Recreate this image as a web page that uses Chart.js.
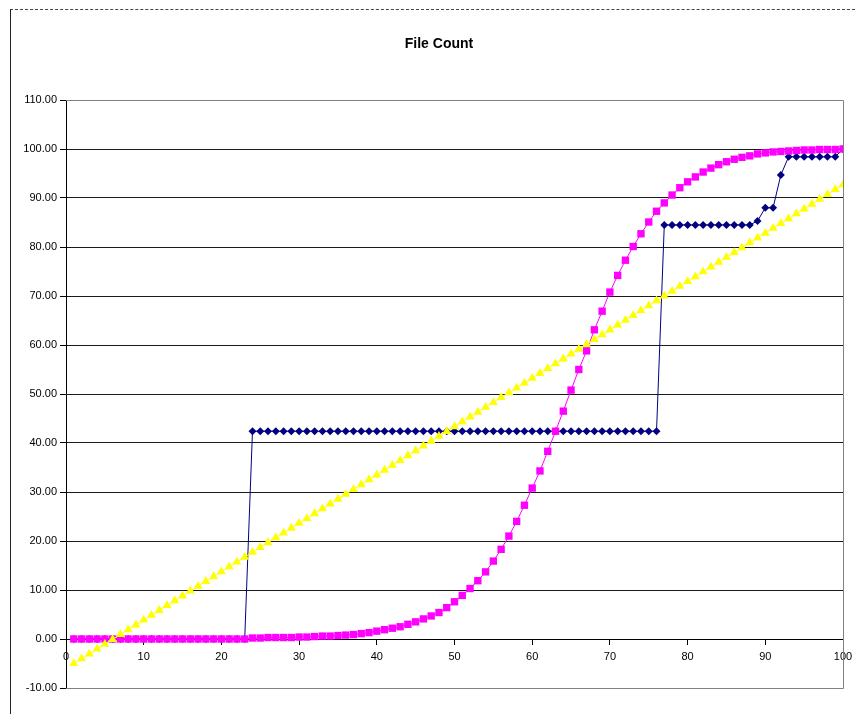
<!DOCTYPE html>
<html lang="en">
<head>
  <meta charset="UTF-8">
  <title>File Count</title>
  <script src="https://cdn.jsdelivr.net/npm/chart.js@4"></script>
  <style>
    * { box-sizing: border-box; margin: 0; padding: 0; }
    body { background: #fff; width: 855px; height: 714px; overflow: hidden; position: relative; font-family: 'Liberation Sans', Arial, sans-serif; }
    #wrap { position: absolute; left: 0; top: 0; width: 855px; height: 714px; }
    .frame { position: absolute; left: 10px; top: 9px; width: 845px; height: 705px; border-left: 1px solid #222; border-top: 1px dashed #444; pointer-events: none; }
  </style>
</head>
<body>
<div id="wrap"><canvas id="chart" width="855" height="714"></canvas></div>
<div class="frame"></div>

<script>
// ── Data ─────────────────────────────────────────────────────────────────────
const titleText = 'File Count';

const xValues = [
  1, 2, 3, 4, 5, 6, 7, 8, 9, 10, 11, 12, 13, 14, 15, 16, 17, 18, 19, 20,
  21, 22, 23, 24, 25, 26, 27, 28, 29, 30, 31, 32, 33, 34, 35, 36, 37, 38, 39, 40,
  41, 42, 43, 44, 45, 46, 47, 48, 49, 50, 51, 52, 53, 54, 55, 56, 57, 58, 59, 60,
  61, 62, 63, 64, 65, 66, 67, 68, 69, 70, 71, 72, 73, 74, 75, 76, 77, 78, 79, 80,
  81, 82, 83, 84, 85, 86, 87, 88, 89, 90, 91, 92, 93, 94, 95, 96, 97, 98, 99, 100
];

// navy diamonds (step series)
const stepSeries = [
  0, 0, 0, 0, 0, 0, 0, 0, 0, 0, 0, 0, 0, 0, 0, 0, 0, 0, 0, 0,
  0, 0, 0, 42.4, 42.4, 42.4, 42.4, 42.4, 42.4, 42.4, 42.4, 42.4, 42.4, 42.4, 42.4, 42.4, 42.4, 42.4, 42.4, 42.4,
  42.4, 42.4, 42.4, 42.4, 42.4, 42.4, 42.4, 42.4, 42.4, 42.4, 42.4, 42.4, 42.4, 42.4, 42.4, 42.4, 42.4, 42.4, 42.4, 42.4,
  42.4, 42.4, 42.4, 42.4, 42.4, 42.4, 42.4, 42.4, 42.4, 42.4, 42.4, 42.4, 42.4, 42.4, 42.4, 42.4, 84.5, 84.5, 84.5, 84.5,
  84.5, 84.5, 84.5, 84.5, 84.5, 84.5, 84.5, 84.5, 85.3, 88.0, 88.0, 94.7, 98.4, 98.4, 98.4, 98.4, 98.4, 98.4, 98.4, 100
];

// magenta squares (S-curve)
const curveSeries = [
  0, 0, 0, 0, 0, 0, 0, 0, 0, 0, 0, 0, 0, 0, 0, 0, 0, 0, 0, 0,
  0, 0, 0, 0.2, 0.2, 0.3, 0.3, 0.3, 0.3, 0.4, 0.4, 0.5, 0.6, 0.6, 0.7, 0.8, 0.9, 1.1, 1.3, 1.6,
  1.9, 2.2, 2.5, 3.0, 3.5, 4.1, 4.7, 5.4, 6.4, 7.6, 8.9, 10.3, 11.9, 13.7, 15.9, 18.3, 21.0, 24.0, 27.3, 30.8,
  34.3, 38.3, 42.4, 46.5, 50.8, 55.0, 58.8, 63.1, 66.9, 70.8, 74.2, 77.3, 80.1, 82.7, 85.1, 87.3, 89.0, 90.6, 92.1, 93.3,
  94.3, 95.3, 96.1, 96.8, 97.4, 97.9, 98.3, 98.6, 99.0, 99.2, 99.4, 99.5, 99.6, 99.7, 99.8, 99.8, 99.9, 99.9, 99.9, 100
];

// yellow triangles (straight line)
const lineSeries = [
  -5.00, -4.01, -3.03, -2.04, -1.05, -0.07, 0.92, 1.91, 2.90, 3.88,
  4.87, 5.86, 6.84, 7.83, 8.82, 9.81, 10.79, 11.78, 12.77, 13.75,
  14.74, 15.73, 16.71, 17.70, 18.69, 19.68, 20.66, 21.65, 22.64, 23.62,
  24.61, 25.60, 26.58, 27.57, 28.56, 29.55, 30.53, 31.52, 32.51, 33.49,
  34.48, 35.47, 36.45, 37.44, 38.43, 39.42, 40.40, 41.39, 42.38, 43.36,
  44.35, 45.34, 46.32, 47.31, 48.30, 49.29, 50.27, 51.26, 52.25, 53.23,
  54.22, 55.21, 56.19, 57.18, 58.17, 59.16, 60.14, 61.13, 62.12, 63.10,
  64.09, 65.08, 66.06, 67.05, 68.04, 69.03, 70.01, 71.00, 71.99, 72.97,
  73.96, 74.95, 75.93, 76.92, 77.91, 78.90, 79.88, 80.87, 81.86, 82.84,
  83.83, 84.82, 85.80, 86.79, 87.78, 88.77, 89.75, 90.74, 91.73, 92.71
];

const xTicks = [0, 10, 20, 30, 40, 50, 60, 70, 80, 90, 100];
const yTicks = [-10, 0, 10, 20, 30, 40, 50, 60, 70, 80, 90, 100, 110];

const toPoints = arr => xValues.map((x, i) => ({ x, y: arr[i] }));

// ── Plugins ──────────────────────────────────────────────────────────────────
const frameAndTitle = {
  id: 'frameAndTitle',
  beforeDatasetsDraw(chart) {
    const { ctx, chartArea: a } = chart;
    ctx.save();
    ctx.strokeStyle = '#808080';
    ctx.lineWidth = 1;
    ctx.beginPath();
    ctx.moveTo(a.left, a.top + 0.5);
    ctx.lineTo(a.right + 0.5, a.top + 0.5);
    ctx.lineTo(a.right + 0.5, a.bottom + 0.5);
    ctx.lineTo(a.left, a.bottom + 0.5);
    ctx.stroke();
    ctx.restore();
  },
  afterDraw(chart) {
    const { ctx } = chart;
    ctx.save();
    ctx.fillStyle = '#000';
    ctx.font = 'bold 14px "Liberation Sans", Arial, sans-serif';
    ctx.textAlign = 'center';
    ctx.textBaseline = 'middle';
    ctx.fillText(titleText, 439, 44);
    ctx.restore();
  }
};

const tickFont = { family: '"Liberation Sans", Arial, sans-serif', size: 11 };

new Chart(document.getElementById('chart'), {
  type: 'line',
  data: {
    datasets: [
      { label: 'Series1', data: toPoints(stepSeries), borderColor: '#000080', backgroundColor: '#000080', borderWidth: 1,
        pointStyle: 'rectRot', pointRadius: 4, pointBorderWidth: 0, order: 3 },
      { label: 'Series2', data: toPoints(curveSeries), borderColor: '#ff00ff', backgroundColor: '#ff00ff', borderWidth: 1,
        pointStyle: 'rect', pointRadius: 5.2, pointBorderWidth: 0, order: 2 },
      { label: 'Series3', data: toPoints(lineSeries), borderColor: '#ffff00', backgroundColor: '#ffff00', borderWidth: 1,
        pointStyle: 'triangle', pointRadius: 5.2, pointBorderWidth: 0, order: 1 }
    ]
  },
  options: {
    responsive: false,
    animation: false,
    events: [],
    layout: { padding: { top: 100, left: 0, right: 12, bottom: 26 } },
    plugins: { legend: { display: false }, tooltip: { enabled: false }, title: { display: false } },
    elements: { line: { tension: 0 } },
    scales: {
      x: {
        type: 'linear',
        min: 0, max: 100,
        position: { y: 0 },
        afterBuildTicks: s => { s.ticks = xTicks.map(v => ({ value: v })); },
        afterFit: s => { s.paddingLeft = 0; s.paddingRight = 0; },
        grid: { drawOnChartArea: false, drawTicks: true, tickLength: 5, tickColor: '#000' },
        border: { color: '#000', width: 1 },
        ticks: { color: '#000', font: tickFont, padding: 6, maxRotation: 0 }
      },
      y: {
        min: -10, max: 110,
        afterBuildTicks: s => { s.ticks = yTicks.map(v => ({ value: v })); },
        afterFit: s => { s.width = 66; s.paddingTop = 0; s.paddingBottom = 0; },
        grid: {
          color: c => (c.tick && (c.tick.value === 110 || c.tick.value === -10)) ? '#808080' : '#1a1a1a',
          lineWidth: 1, drawTicks: true, tickLength: 6, tickColor: '#000'
        },
        border: { color: '#000', width: 1 },
        ticks: { color: '#000', font: tickFont, padding: 3, callback: v => Number(v).toFixed(2) }
      }
    }
  },
  plugins: [frameAndTitle]
});
</script>
</body>
</html>
